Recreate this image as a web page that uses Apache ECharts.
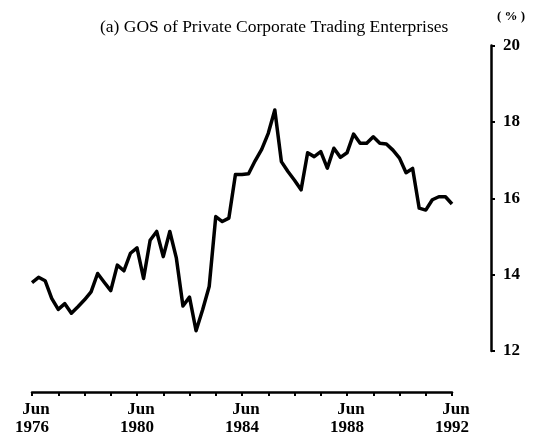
<!DOCTYPE html>
<html>
<head>
<meta charset="utf-8">
<script src="https://cdn.jsdelivr.net/npm/echarts@6/dist/echarts.min.js"></script>
<style>
    html, body { margin: 0; padding: 0; background: #fff; }
    #echarts { width: 542px; height: 441px; }
</style>
</head>
<body>
<div id="echarts"></div>
<script>
// quarters, Jun 1976 .. Jun 1992
var quarterMonths = ['Jun', 'Sep', 'Dec', 'Mar'];
var firstYear = 1976;
var quarterCount = 65;

// GOS share, per cent
var gosValues = [
    13.79, 13.93, 13.84, 13.38, 13.09, 13.24, 12.99, 13.16,
    13.34, 13.55, 14.03, 13.80, 13.58, 14.25, 14.10, 14.56,
    14.70, 13.90, 14.90, 15.13, 14.47, 15.13, 14.43, 13.18,
    13.41, 12.53, 13.08, 13.69, 15.52, 15.39, 15.48, 16.62,
    16.62, 16.64, 16.98, 17.28, 17.70, 18.31, 16.96, 16.70,
    16.47, 16.22, 17.19, 17.09, 17.22, 16.79, 17.31, 17.07,
    17.19, 17.68, 17.44, 17.44, 17.61, 17.44, 17.42, 17.26,
    17.05, 16.67, 16.78, 15.74, 15.69, 15.96, 16.04, 16.04,
    15.85
];

var yTicks = [12, 14, 16, 18, 20];

var categories = [];
for (var i = 0; i < quarterCount; i++) {
    var year = firstYear + Math.floor((i + 2) / 4);
    categories.push(quarterMonths[i % 4] + ' ' + year);
}

var serif = 'Liberation Serif';

var myChart = echarts.init(document.getElementById('echarts'));
var option = {
    backgroundColor: '#fff',
    animation: false,
    title: {
        text: '(a) GOS of Private Corporate Trading Enterprises',
        left: 95,
        top: 13,
        textStyle: {
            fontFamily: serif,
            fontSize: 17.5,
            fontWeight: 'normal',
            color: '#000'
        }
    },
    graphic: [
        {
            type: 'text',
            left: 497,
            top: 10,
            style: {
                text: '( % )',
                font: 'bold 13px "Liberation Serif"',
                fill: '#000'
            }
        }
    ],
    grid: {
        left: 32,
        right: 90,
        top: 45.5,
        bottom: 90
    },
    xAxis: {
        type: 'category',
        data: categories,
        boundaryGap: false,
        offset: 41,
        axisLine: {
            lineStyle: { color: '#000', width: 2.5 }
        },
        axisTick: {
            interval: 3,
            length: 4,
            lineStyle: { color: '#000', width: 2 }
        },
        axisLabel: {
            interval: 15,
            margin: 9,
            formatter: function (val) {
                var p = val.split(' ');
                return '{m|' + p[0] + '}\n{y|' + p[1] + '}';
            },
            rich: {
                m: {
                    fontFamily: serif,
                    fontSize: 17,
                    fontWeight: 'bold',
                    color: '#000',
                    lineHeight: 18,
                    padding: [0, 0, 0, 8]
                },
                y: {
                    fontFamily: serif,
                    fontSize: 17,
                    fontWeight: 'bold',
                    color: '#000',
                    lineHeight: 18
                }
            }
        },
        splitLine: { show: false }
    },
    yAxis: {
        type: 'value',
        position: 'right',
        offset: 39,
        min: yTicks[0],
        max: yTicks[yTicks.length - 1],
        interval: 2,
        axisLine: {
            show: true,
            lineStyle: { color: '#000', width: 2.5 }
        },
        axisTick: {
            show: true,
            length: 4,
            lineStyle: { color: '#000', width: 2 }
        },
        axisLabel: {
            margin: 12,
            fontFamily: serif,
            fontSize: 17,
            fontWeight: 'bold',
            color: '#000'
        },
        splitLine: { show: false }
    },
    series: [
        {
            name: 'GOS',
            type: 'line',
            data: gosValues,
            symbol: 'none',
            lineStyle: { color: '#000', width: 3.5, join: 'round' }
        }
    ]
};
myChart.setOption(option);
</script>
</body>
</html>
